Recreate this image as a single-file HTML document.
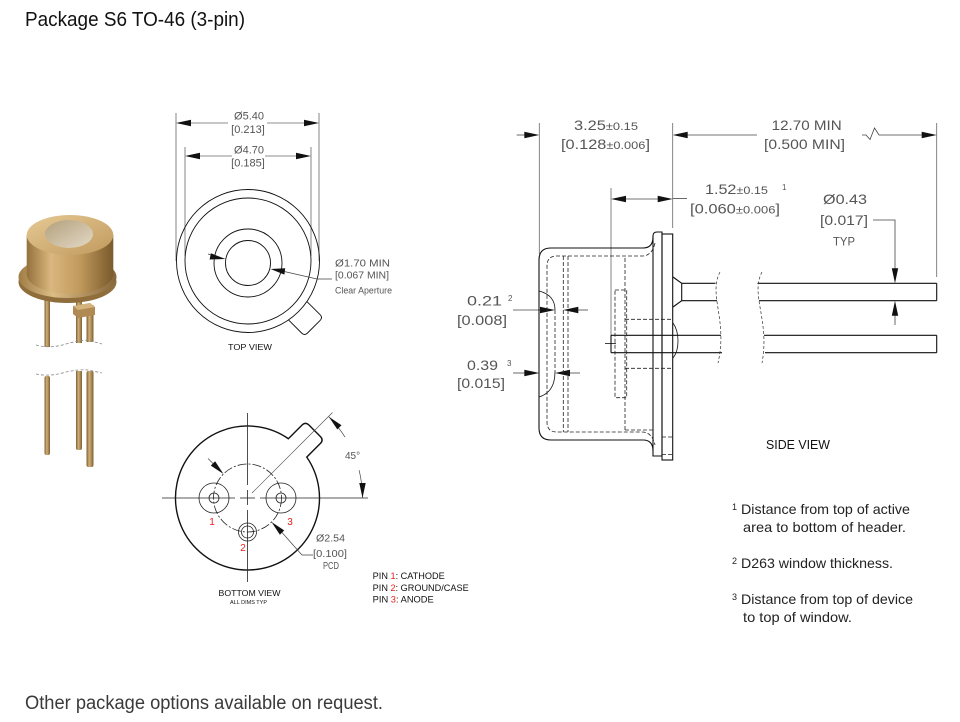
<!DOCTYPE html>
<html><head><meta charset="utf-8"><style>
html,body{margin:0;padding:0;background:#fff;}
svg{display:block;}
text{font-family:"Liberation Sans",sans-serif;}
</style></head><body>
<svg width="960" height="722" viewBox="0 0 960 722" xmlns="http://www.w3.org/2000/svg">
<defs>
 <linearGradient id="gCyl" x1="0" x2="1" y1="0" y2="0">
  <stop offset="0" stop-color="#94713c"/>
  <stop offset="0.28" stop-color="#d9b77e"/>
  <stop offset="0.6" stop-color="#c29b5e"/>
  <stop offset="1" stop-color="#7a5a2b"/>
 </linearGradient>
 <linearGradient id="gFl" x1="0" x2="1" y1="0" y2="0">
  <stop offset="0" stop-color="#a07c45"/>
  <stop offset="0.35" stop-color="#dcbd86"/>
  <stop offset="1" stop-color="#86653a"/>
 </linearGradient>
 <linearGradient id="gTop" x1="0" x2="1" y1="0" y2="1">
  <stop offset="0" stop-color="#e6c994"/>
  <stop offset="1" stop-color="#c09a5e"/>
 </linearGradient>
 <linearGradient id="gPin" x1="0" x2="1" y1="0" y2="0">
  <stop offset="0" stop-color="#7a5c2e"/>
  <stop offset="0.4" stop-color="#d2b07a"/>
  <stop offset="1" stop-color="#7f612f"/>
 </linearGradient>
 <linearGradient id="gWin" x1="0" x2="1" y1="0" y2="1">
  <stop offset="0" stop-color="#b3a07c"/>
  <stop offset="1" stop-color="#e4d9c6"/>
 </linearGradient>
</defs>

<!-- Title & footer -->
<text x="25" y="26" font-size="20" textLength="220" lengthAdjust="spacingAndGlyphs" fill="#111">Package S6 TO-46 (3-pin)</text>
<text x="25" y="709" font-size="19" textLength="358" lengthAdjust="spacingAndGlyphs" fill="#3a3a3a">Other package options available on request.</text>

<!-- ============ PACKAGE PHOTO ============ -->
<g>
 <rect x="44.5" y="292" width="5.5" height="55" fill="url(#gPin)"/>
 <rect x="76" y="298" width="6" height="45" fill="url(#gPin)"/>
 <rect x="86.5" y="305" width="7" height="37" fill="url(#gPin)"/>
 <rect x="44.5" y="376" width="5.5" height="79" rx="2" fill="url(#gPin)"/>
 <rect x="76" y="370" width="6" height="80" rx="2" fill="url(#gPin)"/>
 <rect x="86.5" y="371" width="7" height="96" rx="2" fill="url(#gPin)"/>
 <rect x="30" y="347" width="80" height="24" fill="#fff"/>
 <path d="M 36 345 Q 50 349 66 344 Q 80 340 88 340 L 102 344" stroke="#888" stroke-width="0.8" stroke-dasharray="3,2" fill="none"/>
 <path d="M 36 374 Q 50 377 66 372 Q 80 369 88 370 L 102 373" stroke="#888" stroke-width="0.8" stroke-dasharray="3,2" fill="none"/>
 <ellipse cx="67.5" cy="282" rx="49" ry="21" fill="#8f6e3c"/>
 <ellipse cx="67.5" cy="277" rx="49" ry="21" fill="url(#gFl)"/>
 <path d="M 26.7 235 L 26.7 274 A 43.3 20 0 0 0 113.3 274 L 113.3 235 Z" fill="url(#gCyl)"/>
 <ellipse cx="70" cy="235" rx="43.3" ry="20" fill="url(#gTop)"/>
 <ellipse cx="69" cy="234" rx="24" ry="14" fill="url(#gWin)"/>
 <polygon points="73,306 90,303 95,307 95,315 78,318 73,314" fill="#b08a52"/>
 <polygon points="73,306 90,303 95,307 78,310" fill="#d4b47c"/>
</g>

<!-- ============ TOP VIEW ============ -->
<g stroke="#666" stroke-width="0.8" fill="none">
 <line x1="176" y1="113" x2="176" y2="261"/>
 <line x1="319" y1="113" x2="319" y2="261"/>
 <line x1="185" y1="147" x2="185" y2="256"/>
 <line x1="311" y1="147" x2="311" y2="256"/>
 <line x1="190" y1="123" x2="228" y2="123"/>
 <line x1="267" y1="123" x2="305" y2="123"/>
 <line x1="199" y1="156" x2="232" y2="156"/>
 <line x1="265" y1="156" x2="297" y2="156"/>
</g>
<g fill="#111">
 <polygon points="176,123 191,119.8 191,126.2"/>
 <polygon points="319,123 304,119.8 304,126.2"/>
 <polygon points="185,156 200,152.8 200,159.2"/>
 <polygon points="311,156 296,152.8 296,159.2"/>
</g>
<g fill="#555" font-size="11" text-anchor="middle">
 <text x="249" y="119.5">Ø5.40</text>
 <text x="248" y="133">[0.213]</text>
 <text x="249" y="153.5">Ø4.70</text>
 <text x="248" y="166.5">[0.185]</text>
</g>
<g stroke="#111" stroke-width="0.9" fill="none">
 <circle cx="248" cy="261" r="71.5"/>
 <circle cx="248" cy="261" r="63"/>
 <circle cx="248" cy="263" r="34"/>
 <circle cx="248" cy="263" r="22.5"/>
 <path transform="translate(248,261) rotate(45)" d="M 70.3 -13 L 89 -13 Q 93 -13 93 -9 L 93 9 Q 93 13 89 13 L 70.3 13"/>
</g>
<g stroke="#444" stroke-width="0.7" fill="none">
 <line x1="208" y1="254" x2="214" y2="256"/>
 <polyline points="282,271 317,279 332,279"/>
</g>
<g fill="#111">
 <polygon points="225.5,259 210.9,253.3 209.6,259.5"/>
 <polygon points="270.5,269 285.2,268.3 284.4,274.6"/>
</g>
<g fill="#555">
 <text x="335" y="266.5" font-size="10" textLength="55" lengthAdjust="spacingAndGlyphs">Ø1.70 MIN</text>
 <text x="335" y="278.5" font-size="10" textLength="54" lengthAdjust="spacingAndGlyphs">[0.067 MIN]</text>
 <text x="335" y="293.5" font-size="9" textLength="57" lengthAdjust="spacingAndGlyphs">Clear Aperture</text>
</g>
<text x="250" y="350" font-size="8.5" text-anchor="middle" fill="#111" textLength="44" lengthAdjust="spacingAndGlyphs">TOP VIEW</text>

<!-- ============ BOTTOM VIEW ============ -->
<g stroke="#111" stroke-width="1.4" fill="none">
 <path transform="translate(247.5,498) rotate(-45)" d="M 70.8 13 A 72 72 0 1 1 70.8 -13 L 90 -13 Q 95 -13 95 -8 L 95 8 Q 95 13 90 13 Z"/>
</g>
<g stroke="#222" stroke-width="0.8" fill="none">
 <line x1="162" y1="498" x2="235" y2="498"/>
 <line x1="240" y1="498" x2="255" y2="498"/>
 <line x1="260" y1="498" x2="368" y2="498"/>
 <line x1="247.5" y1="413" x2="247.5" y2="485"/>
 <line x1="247.5" y1="490" x2="247.5" y2="505"/>
 <line x1="247.5" y1="510" x2="247.5" y2="582"/>
 <line x1="252" y1="493" x2="332.5" y2="412.5" stroke="#444" stroke-width="0.6"/>
 <circle cx="247.5" cy="498" r="34" stroke-dasharray="9,2,2,2"/>
 <circle cx="214" cy="498" r="15"/>
 <circle cx="214" cy="498" r="5"/>
 <circle cx="281" cy="498" r="15"/>
 <circle cx="281" cy="498" r="5"/>
 <circle cx="247.5" cy="532" r="9"/>
 <circle cx="247.5" cy="532" r="6"/>
</g>
<g stroke="#444" stroke-width="0.7" fill="none">
 <path d="M 328.8 416.7 A 115 115 0 0 1 345 437.1"/>
 <path d="M 359.1 470.2 A 115 115 0 0 1 362.5 498"/>
 <line x1="208" y1="458.5" x2="214" y2="464.5"/>
 <polyline points="282,532.5 302,555 313,555"/>
</g>
<g fill="#111">
 <polygon points="328.8,416.7 337.3,429.4 341.5,425.2"/>
 <polygon points="362.5,498 359.3,483 365.7,483"/>
 <polygon points="223.5,474 210.8,465.6 215.1,461.3"/>
 <polygon points="271.5,522 284.2,530.4 279.9,534.7"/>
</g>
<text x="345" y="459" font-size="10" fill="#555">45°</text>
<g fill="#555" font-size="10">
 <text x="316" y="541.5" textLength="29" lengthAdjust="spacingAndGlyphs">Ø2.54</text>
 <text x="313" y="557" textLength="34" lengthAdjust="spacingAndGlyphs">[0.100]</text>
 <text x="323" y="569" textLength="16" lengthAdjust="spacingAndGlyphs">PCD</text>
</g>
<g fill="#e8201c" font-size="10" text-anchor="middle">
 <text x="212" y="525">1</text>
 <text x="290" y="525">3</text>
 <text x="243" y="551">2</text>
</g>
<text x="249.5" y="596" font-size="8.5" text-anchor="middle" fill="#111" textLength="62" lengthAdjust="spacingAndGlyphs">BOTTOM VIEW</text>
<text x="248.5" y="604" font-size="5" text-anchor="middle" fill="#111" textLength="37" lengthAdjust="spacingAndGlyphs">ALL DIMS TYP</text>
<g font-size="9" fill="#111">
 <text x="372.7" y="579" textLength="72" lengthAdjust="spacingAndGlyphs">PIN <tspan fill="#e8201c">1</tspan>: CATHODE</text>
 <text x="372.7" y="591" textLength="96" lengthAdjust="spacingAndGlyphs">PIN <tspan fill="#e8201c">2</tspan>: GROUND/CASE</text>
 <text x="372.7" y="602.5" textLength="61" lengthAdjust="spacingAndGlyphs">PIN <tspan fill="#e8201c">3</tspan>: ANODE</text>
</g>

<!-- ============ SIDE VIEW ============ -->
<!-- extension lines -->
<g stroke="#666" stroke-width="0.8" fill="none">
 <line x1="539.3" y1="123" x2="539.3" y2="254"/>
 <line x1="672.7" y1="123" x2="672.7" y2="228"/>
 <line x1="936.7" y1="123" x2="936.7" y2="277"/>
 <line x1="611" y1="188" x2="611" y2="343"/>
</g>
<!-- dim lines -->
<g stroke="#444" stroke-width="0.8" fill="none">
 <line x1="516.7" y1="135" x2="525" y2="135"/>
 <line x1="687" y1="135" x2="757" y2="135"/>
 <polyline points="862,135 866,135 870,139.5 874.5,128 879,135 922,135"/>
 <line x1="626" y1="199" x2="658" y2="199"/>
 <line x1="672.7" y1="198.5" x2="687" y2="198.5"/>
 <polyline points="873,220 895,220 895,269"/>
 <line x1="895" y1="315" x2="895" y2="325"/>
 <line x1="513" y1="310" x2="541" y2="310"/>
 <line x1="577" y1="310" x2="588" y2="310"/>
 <line x1="513" y1="373" x2="525" y2="373"/>
 <line x1="569" y1="373" x2="580" y2="373"/>
</g>
<g fill="#111">
 <polygon points="539.3,135 524.3,131.8 524.3,138.2"/>
 <polygon points="672.7,135 687.7,131.8 687.7,138.2"/>
 <polygon points="936.7,135 921.7,131.8 921.7,138.2"/>
 <polygon points="611,199 626,195.8 626,202.2"/>
 <polygon points="672.7,199 657.7,195.8 657.7,202.2"/>
 <polygon points="895,283.3 891.8,268.3 898.2,268.3"/>
 <polygon points="895,300.7 891.8,315.7 898.2,315.7"/>
 <polygon points="555,310 540,306.8 540,313.2"/>
 <polygon points="563.3,310 578.3,306.8 578.3,313.2"/>
 <polygon points="539.3,373 524.3,369.8 524.3,376.2"/>
 <polygon points="555,373 570,369.8 570,376.2"/>
</g>
<!-- body solid -->
<g stroke="#111" stroke-width="1.1" fill="none">
 <path d="M 653 236 Q 653 232 657 232 L 662 232 L 662 456 L 653 456 Z"/>
 <rect x="662" y="234" width="10.7" height="226"/>
 <path d="M 653 237 Q 653 248 643 248 L 551 248 Q 539 248 539 260 L 539 428 Q 539 440 551 440 L 643 440 Q 653 440 653 451"/>
 <path d="M 539 291 Q 555 295 555 310" stroke-width="0.8"/>
 <path d="M 555 372 Q 555 392 539 397" stroke-width="0.8"/>
 <!-- upper pin -->
 <path d="M 673 277 L 681.7 283.3 L 681.7 300.7 L 673 307"/>
 <line x1="681.7" y1="283.3" x2="715.5" y2="283.3"/>
 <line x1="681.7" y1="300.7" x2="717" y2="300.7"/>
 <line x1="757.5" y1="283.3" x2="936.7" y2="283.3"/>
 <line x1="759" y1="300.7" x2="936.7" y2="300.7"/>
 <line x1="936.7" y1="283.3" x2="936.7" y2="300.7"/>
 <!-- lower pin -->
 <line x1="611" y1="335.3" x2="721" y2="335.3"/>
 <line x1="611" y1="352.7" x2="722" y2="352.7"/>
 <line x1="764" y1="335.3" x2="936.7" y2="335.3"/>
 <line x1="765" y1="352.7" x2="936.7" y2="352.7"/>
 <line x1="936.7" y1="335.3" x2="936.7" y2="352.7"/>
 <line x1="611" y1="335.3" x2="611" y2="352.7"/>
 <path d="M 673 323 Q 678 330 678 341 Q 678 352 673 358" stroke-width="0.8"/>
 <line x1="605" y1="343.5" x2="616" y2="343.5" stroke-width="0.8"/>
</g>
<!-- hidden (dashed) -->
<g stroke="#222" stroke-width="0.8" fill="none" stroke-dasharray="4,2">
 <path d="M 655 243 Q 652 256 642 256 L 557 256 Q 547 256 547 266 L 547 422 Q 547 432 557 432 L 642 432 Q 652 432 655 445"/>
 <line x1="563.3" y1="256" x2="563.3" y2="432"/>
 <line x1="568" y1="256" x2="568" y2="432"/>
 <line x1="555" y1="310" x2="555" y2="372"/>
 <line x1="625" y1="258" x2="625" y2="430"/>
 <line x1="625" y1="430" x2="653" y2="430"/>
 <rect x="615" y="290" width="11.7" height="107.7"/>
 <line x1="625" y1="319.3" x2="673" y2="319.3"/>
 <line x1="625" y1="368.3" x2="673" y2="368.3"/>
 <line x1="662" y1="437" x2="673" y2="437"/>
 <line x1="662" y1="454.5" x2="673" y2="454.5"/>
</g>
<g stroke="#333" stroke-width="0.7" fill="none" stroke-dasharray="3,2">
 <path d="M 720 272 C 708 295, 728 320, 718 363"/>
 <path d="M 762 272 C 750 295, 770 320, 762 363"/>
</g>
<!-- side view texts -->
<g fill="#555">
 <text x="574" y="130" font-size="14" textLength="64" lengthAdjust="spacingAndGlyphs">3.25<tspan font-size="11">±0.15</tspan></text>
 <text x="561" y="149" font-size="14" textLength="89" lengthAdjust="spacingAndGlyphs">[0.128<tspan font-size="11">±0.006</tspan>]</text>
 <text x="771.7" y="130" font-size="14" textLength="70" lengthAdjust="spacingAndGlyphs">12.70 MIN</text>
 <text x="764" y="149" font-size="14" textLength="81" lengthAdjust="spacingAndGlyphs">[0.500 MIN]</text>
 <text x="705" y="194" font-size="14" textLength="63" lengthAdjust="spacingAndGlyphs">1.52<tspan font-size="11">±0.15</tspan></text>
 <text x="782" y="190" font-size="8">1</text>
 <text x="690" y="213.5" font-size="14" textLength="90" lengthAdjust="spacingAndGlyphs">[0.060<tspan font-size="11">±0.006</tspan>]</text>
 <text x="823" y="204" font-size="14" textLength="44" lengthAdjust="spacingAndGlyphs">Ø0.43</text>
 <text x="820" y="225" font-size="14" textLength="48" lengthAdjust="spacingAndGlyphs">[0.017]</text>
 <text x="833" y="245.5" font-size="12" textLength="22" lengthAdjust="spacingAndGlyphs">TYP</text>
 <text x="467" y="305.5" font-size="14" textLength="35" lengthAdjust="spacingAndGlyphs">0.21</text>
 <text x="508" y="301" font-size="8">2</text>
 <text x="457" y="325" font-size="14" textLength="50" lengthAdjust="spacingAndGlyphs">[0.008]</text>
 <text x="467" y="370" font-size="14" textLength="31" lengthAdjust="spacingAndGlyphs">0.39</text>
 <text x="507" y="366" font-size="8">3</text>
 <text x="457" y="388" font-size="14" textLength="48" lengthAdjust="spacingAndGlyphs">[0.015]</text>
</g>
<text x="766" y="449" font-size="12.5" fill="#111" textLength="64" lengthAdjust="spacingAndGlyphs">SIDE VIEW</text>

<!-- ============ NOTES ============ -->
<g fill="#222" font-size="14">
 <text x="732" y="510" font-size="9">1</text>
 <text x="741" y="514" textLength="169" lengthAdjust="spacingAndGlyphs">Distance from top of active</text>
 <text x="743" y="532" textLength="163" lengthAdjust="spacingAndGlyphs">area to bottom of header.</text>
 <text x="732" y="564" font-size="9">2</text>
 <text x="741" y="568" textLength="152" lengthAdjust="spacingAndGlyphs">D263 window thickness.</text>
 <text x="732" y="600" font-size="9">3</text>
 <text x="741" y="604" textLength="172" lengthAdjust="spacingAndGlyphs">Distance from top of device</text>
 <text x="743" y="622" textLength="109" lengthAdjust="spacingAndGlyphs">to top of window.</text>
</g>
</svg>
</body></html>
